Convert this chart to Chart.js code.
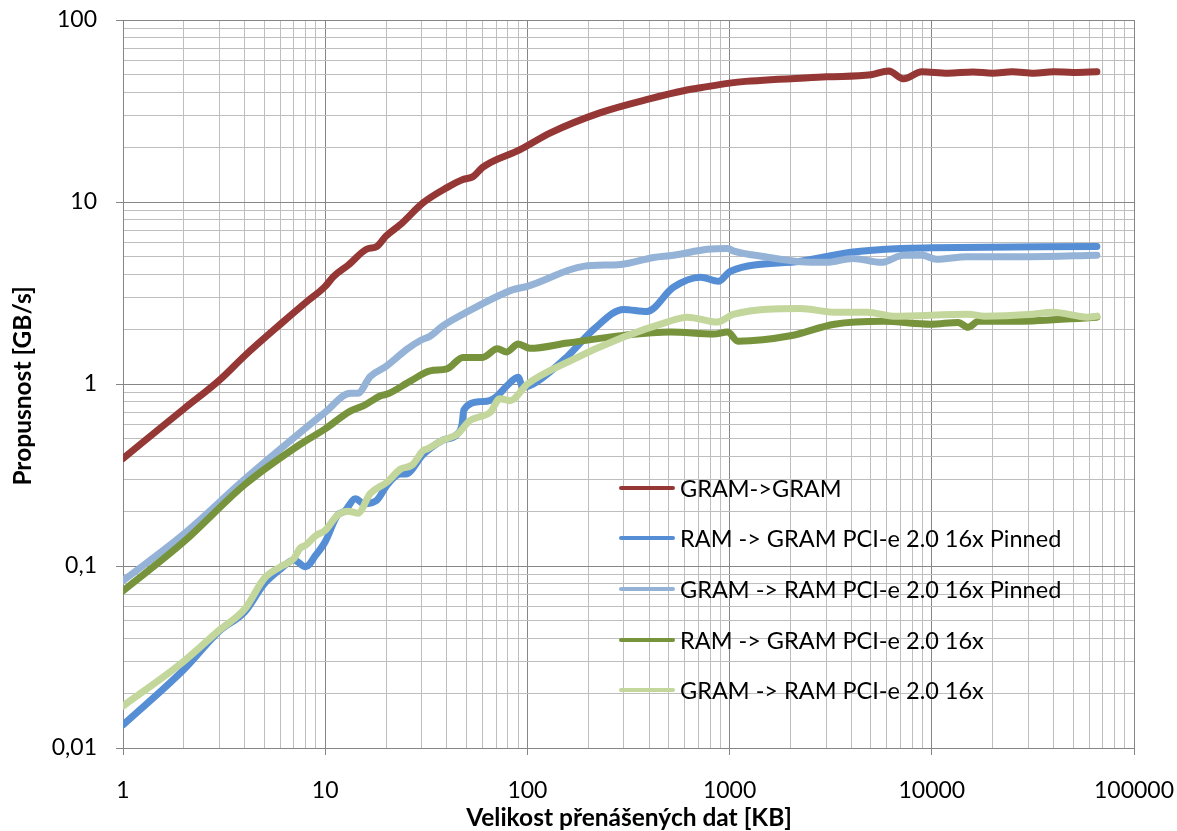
<!DOCTYPE html>
<html><head><meta charset="utf-8">
<script src="https://cdn.jsdelivr.net/npm/chart.js@4/dist/chart.umd.min.js"></script>
<style>html,body{margin:0;padding:0;background:#fff}#wrap{width:1177px;height:831px;position:relative}</style>
</head><body><div id="wrap"><canvas id="c" width="1177" height="831"></canvas></div>
<script>
// ---- data ----
const seriesLabels = ['GRAM->GRAM','RAM -> GRAM PCI-e 2.0 16x Pinned','GRAM -> RAM PCI-e 2.0 16x Pinned','RAM -> GRAM PCI-e 2.0 16x','GRAM -> RAM PCI-e 2.0 16x'];
const seriesColors = ['#953735','#558ED5','#95B3D7','#77933C','#C3D69B'];

const xGramGram = [1,2,3,4,6,8,10,11,13,16,18,20,23.5,30.5,40,48,54,60,92,130,230,406,600,718,1000,1200,3020,5000,6120,7270,8920,12000,16000,20000,25000,32000,40000,50000,65536];
const yGramGram = [0.39,0.73,1.05,1.43,2.13,2.8,3.44,3.9,4.5,5.5,5.7,6.5,7.5,9.9,12,13.3,13.8,15.5,19.4,24,31,37,41,42.4,45,46,48.7,50,52.5,47.5,51.9,51,51.8,51,52,51,52,51.5,52];

const xRamGramPinned = [1,2,3,4,5,6,7,8,9,10,11.5,12.5,14.1,15.5,18,20.3,23.5,25,30.5,38,45,47.5,48.5,58.5,65,71,79,90,95,107,158,213,299,390,527,718,883,1010,2240,3980,7030,10000,65536];
const yRamGramPinned = [0.0134,0.027,0.044,0.056,0.08,0.096,0.108,0.099,0.115,0.136,0.19,0.2,0.234,0.22,0.23,0.28,0.32,0.32,0.41,0.49,0.53,0.6,0.72,0.8,0.81,0.86,0.975,1.09,0.96,1.0,1.42,2.0,2.57,2.5,3.4,3.86,3.67,4.17,4.72,5.3,5.56,5.6,5.7];

const xGramRamPinned = [1,2,4,7.5,10,13.3,14.5,16.7,20,25.5,30,33,38,50,85,100,189,289,421,528,777,977,1050,1500,2240,3020,4070,5620,7240,9000,10500,15000,20000,30000,65536];
const yGramRamPinned = [0.083,0.15,0.30,0.54,0.70,0.89,0.89,1.1,1.25,1.56,1.75,1.83,2.08,2.48,3.3,3.44,4.43,4.54,4.96,5.1,5.5,5.56,5.37,5.0,4.7,4.66,4.9,4.66,5.1,5.1,4.84,5.0,5.0,5.0,5.1];

const xRamGram = [1,2,4,7.5,10,13.3,15.5,18.7,20.3,26.5,33,40,48,60,71,79,90,103,158,299,510,834,977,1100,2000,3300,5750,9900,13500,15100,17000,26300,65536];
const yRamGram = [0.073,0.136,0.28,0.465,0.567,0.71,0.76,0.86,0.88,1.04,1.18,1.21,1.4,1.4,1.56,1.5,1.66,1.57,1.68,1.85,1.93,1.88,1.93,1.72,1.84,2.13,2.21,2.13,2.18,2.05,2.21,2.21,2.33];

const xGramRam = [1,2,3,4,5,6,7,7.5,8,9,10,11.5,13,14.5,16.7,20.3,23.5,27,30.5,32,38,45,52,58,65.6,73,82,100,158,299,490,617,871,1050,2240,3300,4800,6460,15100,18200,31600,39800,58900,65536];
const yGramRam = [0.017,0.030,0.0445,0.058,0.0855,0.099,0.11,0.125,0.13,0.147,0.157,0.19,0.2,0.195,0.25,0.29,0.34,0.36,0.43,0.44,0.49,0.53,0.63,0.66,0.7,0.83,0.81,1.0,1.32,1.81,2.19,2.33,2.19,2.42,2.6,2.48,2.48,2.36,2.42,2.36,2.42,2.48,2.33,2.36];

const xTickLabels = ['1','10','100','1000','10000','100000'];
const yTickLabels = ['0,01','0,1','1','10','100'];
const xTitle = 'Velikost přenášených dat [KB]';
const yTitle = 'Propusnost [GB/s]';

// ---- build ----
const FONT = 'Lato, "Open Sans", sans-serif';
Chart.defaults.font.family = FONT;
Chart.defaults.color = '#000';

function pts(xs, ys){ return xs.map((x,i)=>({x:x,y:ys[i]})); }
const seriesX = [xGramGram,xRamGramPinned,xGramRamPinned,xRamGram,xGramRam];
const seriesY = [yGramGram,yRamGramPinned,yGramRamPinned,yRamGram,yGramRam];

function logTicks(minExp, maxExp){
  const t=[];
  for(let k=minExp;k<maxExp;k++){ for(let m=1;m<10;m++){ t.push({value:Number((m*Math.pow(10,k)).toPrecision(6))}); } }
  t.push({value:Number(Math.pow(10,maxExp).toPrecision(6))});
  return t;
}
function isMajor(v){ const l=Math.log10(v); return Math.abs(l-Math.round(l))<1e-9; }
const MAJOR='#868686', MINOR='#BEBEBE';

const datasets = seriesLabels.map((lab,i)=>({
  label: lab,
  data: pts(seriesX[i], seriesY[i]),
  borderColor: seriesColors[i],
  backgroundColor: seriesColors[i],
  borderWidth: 7,
  pointRadius: 0,
  cubicInterpolationMode: 'monotone',
  borderCapStyle: 'round',
  borderJoinStyle: 'round',
  fill: false,
  order: seriesLabels.length - 1 - i
}));

const overlay = {
  id:'overlay',
  afterDraw(chart){
    const ctx = chart.ctx;
    ctx.save();
    // legend
    const rows=[488,538,589,640,690];
    ctx.font = '23.5px ' + FONT;
    ctx.textBaseline='middle'; ctx.textAlign='left';
    seriesLabels.forEach((lab,i)=>{
      ctx.strokeStyle = seriesColors[i]; ctx.lineWidth=4; ctx.lineCap='round';
      ctx.beginPath(); ctx.moveTo(621,rows[i]); ctx.lineTo(673,rows[i]); ctx.stroke();
      ctx.fillStyle='#000'; ctx.fillText(lab, 680, rows[i]+1);
    });
    // axis titles
    ctx.font = 'bold 24.5px ' + FONT;
    ctx.textAlign='center'; ctx.textBaseline='middle';
    ctx.fillText(xTitle, 629, 818);
    ctx.translate(23, 386); ctx.rotate(-Math.PI/2);
    ctx.fillText(yTitle, 0, 0);
    ctx.restore();
  }
};

function noPad(s){ s.paddingLeft=0; s.paddingRight=0; s.paddingTop=0; s.paddingBottom=0; }

new Chart(document.getElementById('c'), {
  type:'line',
  data:{datasets},
  options:{
    responsive:false, animation:false, devicePixelRatio:1,
    layout:{padding:{top:20,right:43,left:0,bottom:0}},
    plugins:{legend:{display:false}, tooltip:{enabled:false}},
    scales:{
      x:{
        type:'logarithmic', min:1, max:100000,
        afterBuildTicks(s){ s.ticks = logTicks(0,5); },
        afterFit(s){ s.height = 83; noPad(s); },
        border:{color:MAJOR, width:1},
        grid:{ color:c=>isMajor(c.tick.value)?MAJOR:MINOR, lineWidth:1, tickLength:7,
               tickColor:c=>isMajor(c.tick.value)?MAJOR:'rgba(0,0,0,0)' },
        ticks:{ autoSkip:false, maxRotation:0, padding:22, font:{size:23},
                callback:(v)=> isMajor(v)? xTickLabels[Math.round(Math.log10(v))] : '' }
      },
      y:{
        type:'logarithmic', min:0.01, max:100,
        afterBuildTicks(s){ s.ticks = logTicks(-2,2); },
        afterFit(s){ s.width = 123; noPad(s); },
        border:{color:MAJOR, width:1},
        grid:{ color:c=>isMajor(c.tick.value)?MAJOR:MINOR, lineWidth:1, tickLength:7,
               tickColor:c=>isMajor(c.tick.value)?MAJOR:'rgba(0,0,0,0)' },
        ticks:{ autoSkip:false, padding:19, font:{size:23},
                callback:(v)=> isMajor(v)? yTickLabels[Math.round(Math.log10(v))+2] : '' }
      }
    }
  },
  plugins:[overlay]
});
</script>
</body></html>
